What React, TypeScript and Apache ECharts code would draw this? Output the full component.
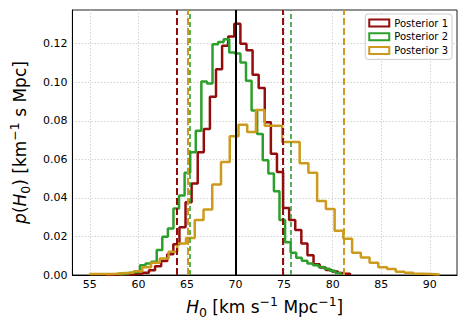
import React, { useEffect, useRef } from "react";
import * as echarts from "echarts";

const X_TICKS = [55, 60, 65, 70, 75, 80, 85, 90];
const Y_TICKS = [0, 0.02, 0.04, 0.06, 0.08, 0.1, 0.12];
const X_MIN = 53.2;
const X_MAX = 92.8;
const Y_MAX = 0.1375;

const SERIES_NAMES = ["Posterior 1", "Posterior 2", "Posterior 3"];
const SERIES_COLORS = ["#930d0d", "#2ca02c", "#cc9a1c"];
const BIN_STARTS = [56.69, 57.86, 55.0];
const BIN_WIDTHS = [0.6276, 0.5746, 0.9];

const POSTERIOR_1 = [
  0.0001, 0.0002, 0.0002, 0.0003, 0.0005, 0.0008, 0.0012, 0.0025, 0.0045, 0.0072,
  0.0108, 0.016, 0.0248, 0.0377, 0.0475, 0.0637, 0.0758, 0.0925, 0.1068, 0.1189,
  0.1237, 0.1304, 0.12, 0.1166, 0.1039, 0.097, 0.0792, 0.0629, 0.0534, 0.0347,
  0.0286, 0.0233, 0.0163, 0.0103, 0.0056, 0.0039, 0.0026, 0.0018, 0.001, 0.0006,
];
const POSTERIOR_2 = [
  0.0005, 0.0008, 0.0012, 0.0016, 0.005, 0.006, 0.0069, 0.013, 0.0198, 0.0241,
  0.0345, 0.0413, 0.053, 0.0637, 0.0749, 0.1004, 0.0994, 0.1197, 0.1209, 0.1223,
  0.1154, 0.1149, 0.1102, 0.1008, 0.0853, 0.0732, 0.0596, 0.0527, 0.0435, 0.0285,
  0.017, 0.0116, 0.009, 0.0074, 0.006, 0.005, 0.0042, 0.0032, 0.0022, 0.001,
];
const POSTERIOR_3 = [
  0.0005, 0.0005, 0.0007, 0.001, 0.0012, 0.002, 0.004, 0.0064, 0.0086, 0.012,
  0.0164, 0.0192, 0.0286, 0.034, 0.047, 0.0586, 0.072, 0.078, 0.0742, 0.0856,
  0.0775, 0.0775, 0.069, 0.069, 0.058, 0.0531, 0.0384, 0.0343, 0.0229, 0.0188,
  0.0115, 0.0091, 0.0064, 0.004, 0.0031, 0.0017, 0.0012, 0.0007, 0.0005, 0.0003,
];
const POSTERIORS = [POSTERIOR_1, POSTERIOR_2, POSTERIOR_3];

const LOWER_BOUNDS = [63.95, 65.25, 65.1];
const UPPER_BOUNDS = [74.82, 75.68, 81.17];
const TRUE_H0 = 70;

const FONT = "DejaVu Sans";

function stepData(start: number, width: number, values: number[]) {
  const pts: number[][] = [[start, 0]];
  values.forEach((v, i) => pts.push([start + i * width, v]));
  const end = start + values.length * width;
  pts.push([end, values[values.length - 1]]);
  pts.push([end, 0]);
  return pts;
}

const NAME_STYLE = {
  fontFamily: FONT,
  fontSize: 17,
  lineHeight: 24,
  color: "#000",
  rich: {
    i: { fontFamily: FONT, fontSize: 17, lineHeight: 24, fontStyle: "italic", color: "#000" },
    sup: { fontFamily: FONT, fontSize: 12.5, lineHeight: 14, verticalAlign: "top", color: "#000" },
    sub: { fontFamily: FONT, fontSize: 12.5, lineHeight: 14, verticalAlign: "bottom", color: "#000" },
  },
};

export default function App() {
  const ref = useRef<HTMLDivElement>(null);

  useEffect(() => {
    if (!ref.current) return;
    const chart = echarts.init(ref.current, null, { renderer: "svg" });

    const histSeries = SERIES_NAMES.map((name, i) => ({
      name,
      type: "line",
      step: "end",
      data: stepData(BIN_STARTS[i], BIN_WIDTHS[i], POSTERIORS[i]),
      showSymbol: false,
      symbol: "none",
      lineStyle: { color: SERIES_COLORS[i], width: 2.5 },
      itemStyle: { color: SERIES_COLORS[i] },
      z: 2 + i,
    }));

    const boundSeries = SERIES_NAMES.map((name, i) => ({
      name: name + " bounds",
      type: "line",
      data: [],
      z: 6,
      markLine: {
        silent: true,
        symbol: ["none", "none"],
        label: { show: false },
        lineStyle: {
          color: SERIES_COLORS[i],
          width: i === 1 ? 1.6 : 2,
          type: i === 1 ? [5, 3] : [7, 3],
        },
        data: [{ xAxis: LOWER_BOUNDS[i] }, { xAxis: UPPER_BOUNDS[i] }],
      },
    }));

    const trueSeries = {
      name: "true",
      type: "line",
      data: [],
      z: 7,
      markLine: {
        silent: true,
        symbol: ["none", "none"],
        label: { show: false },
        lineStyle: { color: "#000", width: 2, type: "solid" },
        data: [{ xAxis: TRUE_H0 }],
      },
    };

    const splitLineStyle = { color: "#bdbdbd", width: 0.8, type: [1.2, 2] };

    chart.setOption({
      animation: false,
      backgroundColor: "#fff",
      grid: {
        left: 69,
        right: 12,
        top: 10,
        bottom: 52,
        show: true,
        borderColor: "#222",
        borderWidth: 1,
        backgroundColor: "transparent",
      },
      legend: {
        data: SERIES_NAMES.map((n, i) => ({
          name: n,
          icon: "rect",
          itemStyle: {
            color: "rgba(0,0,0,0)",
            borderColor: SERIES_COLORS[i],
            borderWidth: 2,
          },
        })),
        orient: "vertical",
        right: 17,
        top: 14,
        itemWidth: 20,
        itemHeight: 7,
        itemGap: 1.7,
        padding: [3, 4, 3, 3],
        backgroundColor: "rgba(255,255,255,0.85)",
        borderColor: "#cccccc",
        borderWidth: 1,
        borderRadius: 3,
        textStyle: { fontFamily: FONT, fontSize: 10, color: "#000", lineHeight: 12 },
        selectedMode: false,
      },
      xAxis: {
        type: "value",
        min: X_MIN,
        max: X_MAX,
        name: "{i|H}{sub|0} [km s{sup|−1} Mpc{sup|−1}]",
        nameLocation: "middle",
        nameGap: 16,
        nameTextStyle: NAME_STYLE,
        axisLine: { show: true, lineStyle: { color: "#000", width: 1 } },
        axisTick: { show: false, customValues: X_TICKS },
        axisLabel: {
          customValues: X_TICKS,
          fontFamily: FONT,
          fontSize: 11,
          color: "#000",
          margin: 4,
          formatter: (v: number) => String(v),
        },
        splitLine: { show: true, lineStyle: splitLineStyle },
      },
      yAxis: {
        type: "value",
        min: 0,
        max: Y_MAX,
        name: "{i|p}({i|H}{sub|0}) [km{sup|−1} s Mpc]",
        nameLocation: "middle",
        nameGap: 38,
        nameTextStyle: NAME_STYLE,
        axisLine: { show: true, lineStyle: { color: "#000", width: 1 } },
        axisTick: { show: false, customValues: Y_TICKS },
        axisLabel: {
          customValues: Y_TICKS,
          fontFamily: FONT,
          fontSize: 11,
          color: "#000",
          margin: 5,
          formatter: (v: number) => v.toFixed(2),
        },
        splitLine: { show: true, lineStyle: splitLineStyle },
      },
      series: [...histSeries, ...boundSeries, trueSeries],
    });

    return () => chart.dispose();
  }, []);

  return (
    <div
      ref={ref}
      style={{ position: "fixed", left: 0, top: 0, width: 469, height: 327 }}
    />
  );
}
